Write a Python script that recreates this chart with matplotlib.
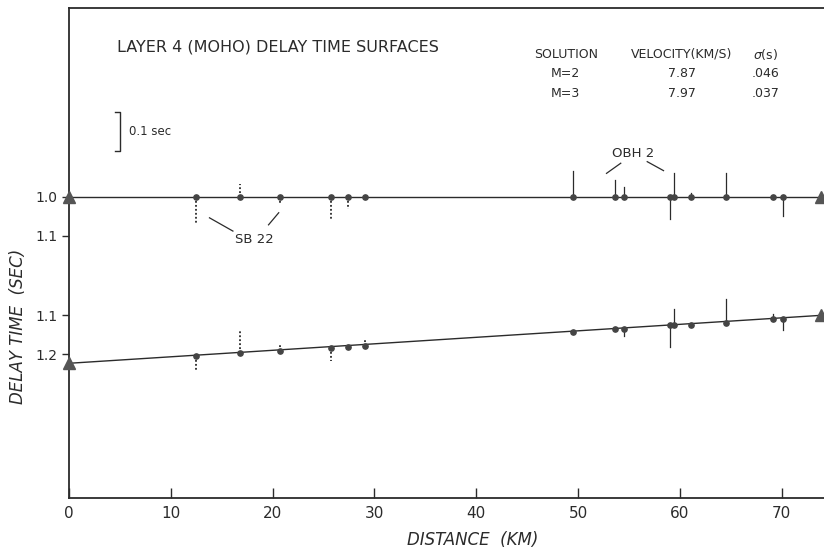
import matplotlib
matplotlib.use("Agg")
import matplotlib.pyplot as plt
import numpy as np

# station distances (km)
dist = [12.45, 16.8, 20.7, 25.7, 27.4, 29.1,
        49.5, 53.6, 54.5, 59.0, 59.4, 61.1, 64.5, 69.2, 70.1]
# dotted bars = SB 22, solid bars = OBH 2
dotted = [True] * 6 + [False] * 9

# M=2 surface (flat) and residuals (s, positive = later / downward)
delay_m2 = [1.0] * 15
resid_m2 = [0.071, -0.033, 0.017, 0.056, 0.032, 0.0,
            -0.067, -0.043, -0.024, 0.056, -0.062, -0.010, -0.060, 0.0, 0.050]

# M=3 surface and residuals
delay_m3 = [1.204, 1.197, 1.192, 1.183, 1.180, 1.178,
            1.143, 1.136, 1.134, 1.126, 1.126, 1.124, 1.119, 1.110, 1.109]
resid_m3 = [0.040, -0.060, -0.015, 0.033, 0.0, -0.015,
            0.0, 0.0, 0.018, 0.055, -0.042, 0.0, -0.060, -0.014, 0.028]

# end points (triangles)
end_x = [0.0, 73.9]
end_m2 = [1.0, 1.0]
end_m3 = [1.223, 1.100]

offset = 0.204   # vertical shift of the M=3 profile on the page
ink = '#2b2b2b'

fig = plt.figure(figsize=(8.24, 5.48), dpi=100)
fig.patch.set_facecolor('white')
ax = fig.add_axes([69 / 824, 50 / 548, 1 - 69 / 824, 490 / 548])

ax.set_xlim(0, 755 / 10.18)
ax.set_ylim(0.516 + 490 / 390, 0.516)

for delays, res, ends, off in [(delay_m2, resid_m2, end_m2, 0.0),
                               (delay_m3, resid_m3, end_m3, offset)]:
    d = np.array(delays) + off
    ax.plot(end_x, np.array(ends) + off, color=ink, lw=1.0, zorder=2)
    for x, y, r, dt in zip(dist, d, res, dotted):
        if r != 0:
            ax.plot([x, x], [y, y + r], color=ink,
                    lw=1.3 if dt else 0.9,
                    ls=(0, (1, 1.2)) if dt else '-', zorder=2)
    ax.plot(dist, d, 'o', ms=3.8, color='#444444', zorder=3)
    ax.plot(end_x, np.array(ends) + off, '^', ms=8, color='#555555',
            clip_on=False, zorder=4)

# axes styling
ax.spines['right'].set_visible(False)
for s in ['left', 'bottom', 'top']:
    ax.spines[s].set_linewidth(1.3)
    ax.spines[s].set_color(ink)

ax.set_xticks([0, 10, 20, 30, 40, 50, 60, 70])
ax.set_xticklabels(['0', '10', '20', '30', '40', '50', '60', '70'])
ax.tick_params(axis='x', direction='in', length=7, width=1, colors=ink,
               labelsize=11, pad=6)
ax.set_yticks([1.0, 1.1, 1.1 + offset, 1.2 + offset])
ax.set_yticklabels(['1.0', '1.1', '1.1', '1.2'])
ax.tick_params(axis='y', direction='out', length=5, width=1, colors=ink,
               labelsize=10, pad=3)

# title and solution table
ax.text(4.7, 0.616, 'LAYER 4 (MOHO) DELAY TIME SURFACES', fontsize=11.5,
        color=ink, va='center', ha='left')
cols = [48.8, 60.2, 68.4]
rows = [0.634, 0.685, 0.736]
table = [['SOLUTION', 'VELOCITY(KM/S)', r'$\sigma$(s)'],
         ['M=2', '7.87', '.046'],
         ['M=3', '7.97', '.037']]
for row, yy in zip(table, rows):
    for txt, xx in zip(row, cols):
        ax.text(xx, yy, txt, fontsize=9, color=ink, ha='center', va='center')

# scale bar
ax.plot([4.55, 5.0, 5.0, 4.55], [0.782, 0.782, 0.882, 0.882], color=ink, lw=1)
ax.text(5.9, 0.832, '0.1 sec', fontsize=8.5, color=ink, va='center')

# station labels
ax.text(55.4, 0.890, 'OBH 2', fontsize=9.5, color=ink, ha='center', va='center')
ax.plot([52.8, 54.2], [0.940, 0.914], color=ink, lw=0.9)
ax.plot([56.8, 58.4], [0.910, 0.933], color=ink, lw=0.9)
ax.text(18.2, 1.109, 'SB 22', fontsize=9.5, color=ink, ha='center', va='center')
ax.plot([13.8, 16.1], [1.054, 1.088], color=ink, lw=0.9)
ax.plot([19.6, 20.6], [1.072, 1.041], color=ink, lw=0.9)

# axis titles
fig.text(18 / 824, 1 - 326 / 548, 'DELAY TIME  (SEC)', rotation=90,
         style='italic', fontsize=12, color=ink, ha='center', va='center')
fig.text(473 / 824, 1 - 540 / 548, 'DISTANCE  (KM)', style='italic',
         fontsize=12, color=ink, ha='center', va='center')

fig.savefig('out.png', dpi=100, facecolor='white')
